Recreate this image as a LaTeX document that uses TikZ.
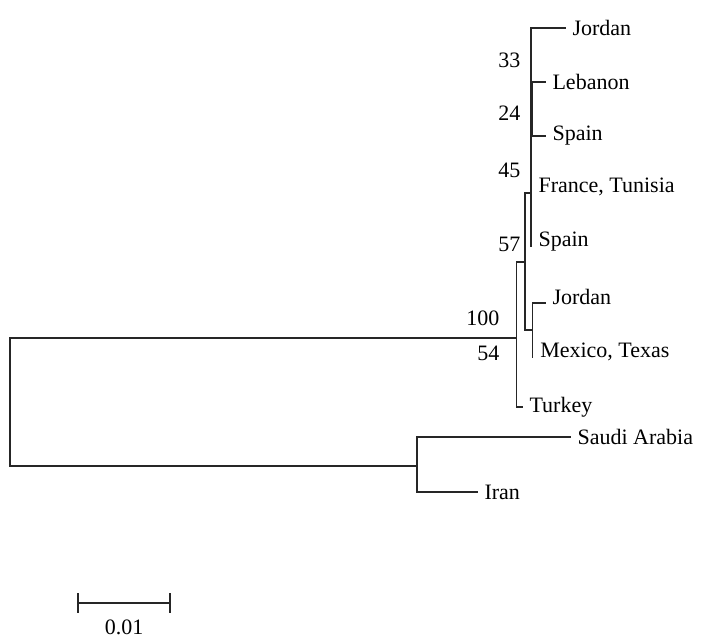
\documentclass[tikz,border=0pt]{standalone}
\usepackage{fontspec}
\setmainfont{Liberation Serif}
\usetikzlibrary{positioning}

\begin{document}
\begin{tikzpicture}[x=1pt, y=-1pt, font=\fontsize{22}{26}\selectfont, line width=1.1pt]
\tikzstyle{taxon}=[anchor=west, inner sep=0pt, xshift=7pt]
\tikzstyle{boot}=[anchor=east, inner sep=0pt]
\tikzstyle{branch}=[draw=black!85, line cap=rect]
\useasboundingbox (0,0) rectangle (702,638);

% internal nodes
\coordinate (root) at (10,402);
\coordinate (n100) at (516.7,338);
\coordinate (nC) at (525,262);
\coordinate (nB) at (531,193);
\coordinate (nA) at (531,130);
\coordinate (n33) at (531,69);
\coordinate (nLS) at (531.6,109);
\coordinate (nD) at (532.7,330);
\coordinate (nOut) at (417,466);

% leaves
\coordinate (lJordanA) at (565,28);
\coordinate (lLebanon) at (545,82);
\coordinate (lSpainA) at (545,136);
\coordinate (lFrance) at (531,191);
\coordinate (lSpainB) at (531,246);
\coordinate (lJordanB) at (545,303);
\coordinate (lMexico) at (532.7,357);
\coordinate (lTurkey) at (522,407);
\coordinate (lSaudi) at (570,437);
\coordinate (lIran) at (477,492);

\draw[branch] (root) |- (n100);
\draw[branch] (root) |- (nOut);
\draw[branch] (n100) |- (nC);
\draw[branch] (n100) |- (lTurkey);
\draw[branch] (nC) |- (nB);
\draw[branch] (nC) |- (nD);
\draw[branch] (nB) |- (nA);
\draw[branch] (nB) -- (lSpainB);
\draw[branch] (nA) |- (n33);
\draw[branch] (nA) -- (lFrance);
\draw[branch] (n33) |- (lJordanA);
\draw[branch] (n33) |- (nLS);
\draw[branch, line width=2pt] (nLS) |- (lLebanon);
\draw[branch, line width=2pt] (nLS) |- (lSpainA);
\draw[branch] (nD) |- (lJordanB);
\draw[branch] (nD) -- (lMexico);
\draw[branch] (nOut) |- (lSaudi);
\draw[branch] (nOut) |- (lIran);

\node[taxon] (tJordanA) at (lJordanA) {Jordan};
\node[taxon] (tLebanon) at (lLebanon) {Lebanon};
\node[taxon] (tSpainA) at (lSpainA) {Spain};
\node[taxon, yshift=4pt] (tFrance) at (lFrance) {France, Tunisia};
\node[taxon, yshift=4pt] (tSpainB) at (lSpainB) {Spain};
\node[taxon, yshift=6pt] (tJordanB) at (lJordanB) {Jordan};
\node[taxon, yshift=5pt] (tMexico) at (lMexico) {Mexico, Texas};
\node[taxon] (tTurkey) at (lTurkey) {Turkey};
\node[taxon] (tSaudi) at (lSaudi) {Saudi Arabia};
\node[taxon] (tIran) at (lIran) {Iran};

% bootstrap values
\node[boot] (b33) at (521,60) {33};
\node[boot] (b24) at (521,113) {24};
\node[boot] (b45) at (521,170) {45};
\node[boot] (b57) at (521,244) {57};
\node[boot] (b100) at (500,318) {100};
\node[boot] (b54) at (500,353) {54};

% scale bar
\coordinate (sbL) at (78,603);
\coordinate (sbR) at (170,603);
\draw[branch] (sbL) -- (sbR);
\draw[branch] ([yshift=9pt]sbL) -- ([yshift=-9pt]sbL);
\draw[branch] ([yshift=9pt]sbR) -- ([yshift=-9pt]sbR);
\node[inner sep=0pt] (sbText) at (124,627) {0.01};
\end{tikzpicture}
\end{document}
